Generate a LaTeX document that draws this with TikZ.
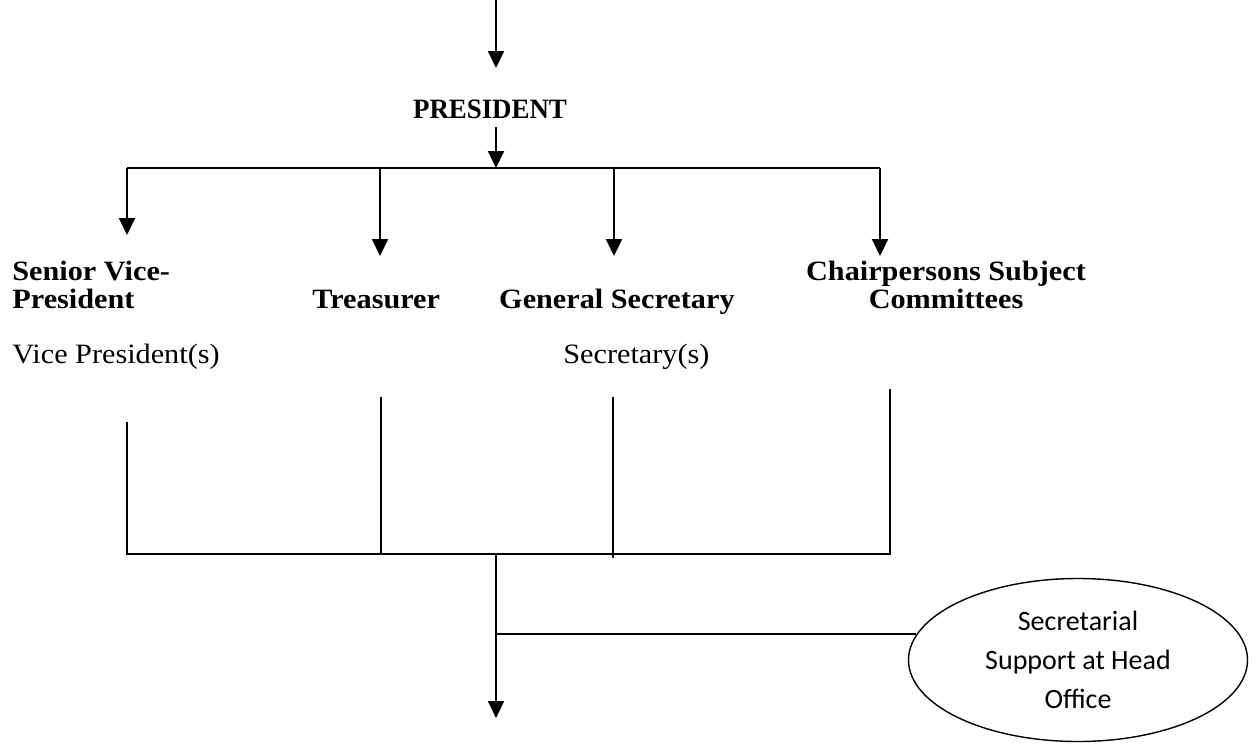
\documentclass[tikz,border=0pt]{standalone}
\usepackage{fontspec}
\setmainfont{Liberation Serif}[FakeStretch=1.08]
\newfontfamily\capsfont{Liberation Serif}[FakeStretch=0.96]
\newfontfamily\calib{Carlito}
\usetikzlibrary{arrows.meta,shapes.geometric}
\tikzset{
  lbl/.style={font=\bfseries\fontsize{14}{14}\selectfont, inner sep=0pt, align=left},
  plaintxt/.style={font=\fontsize{14}{14}\selectfont, inner sep=0pt},
  arr/.style={line width=1pt, -{Triangle[width=8pt,length=8.5pt]}},
  ln/.style={line width=1pt},
  oval/.style={ellipse, draw, line width=0.7pt, inner sep=0pt,
    minimum width=169.5pt, minimum height=81.5pt, align=center,
    font=\calib\fontsize{14}{19.5}\selectfont},
}
\begin{document}
\begin{tikzpicture}[x=0.5pt,y=-0.5pt]
\useasboundingbox (0,0) rectangle (1256,744);

% top
\coordinate (top) at (496,0);
\coordinate (topend) at (496,68);
\draw[arr] (top) -- (topend);
\node[lbl, font=\capsfont\bfseries\fontsize{14}{14}\selectfont, anchor=base] (pres) at (490,118) {PRESIDENT};
\coordinate (p1) at (496,127);
\coordinate (pbus) at (496,168);
\draw[arr] (p1) -- (pbus);

% upper bus
\coordinate (u1) at (127,168);
\coordinate (u2) at (380,168);
\coordinate (u3) at (614,168);
\coordinate (u4) at (880,168);
\draw[ln] (u1) -- (u4);

% labels
\node[lbl, anchor=north west] (svp) at (12,261) {Senior Vice-\\President};
\node[lbl, anchor=base west] (tre) at (312,308) {Treasurer};
\node[lbl, anchor=base east] (gs) at (735,308) {General Secretary};
\node[lbl, anchor=north, align=center] (cs) at (946,261) {Chairpersons Subject\\Committees};
\node[plaintxt, anchor=base west] (vp) at (12,363) {Vice President(s)};
\node[plaintxt, anchor=base west] (sec) at (563,363) {Secretary(s)};

% arrows to labels
\coordinate (a1) at (127,235);
\coordinate (a2) at (380,256);
\coordinate (a3) at (614,256);
\coordinate (a4) at (880,256);
\draw[arr] (u1) -- (a1);
\draw[arr] (u2) -- (a2);
\draw[arr] (u3) -- (a3);
\draw[arr] (u4) -- (a4);

% lower lines
\coordinate (l1t) at (127,422);
\coordinate (l2t) at (381,397);
\coordinate (l3t) at (613,397);
\coordinate (l4t) at (890,389);
\coordinate (l1b) at (127,554);
\coordinate (l2b) at (381,554);
\coordinate (l3b) at (613,558);
\coordinate (l4b) at (890,554);
\draw[ln] (l1t) -- (l1b) -- (l4b) -- (l4t);
\draw[ln] (l2t) -- (l2b);
\draw[ln] (l3t) -- (l3b);

% centre line and ellipse
\coordinate (mid) at (496,554);
\coordinate (bottom) at (496,718);
\draw[arr] (mid) -- (bottom);
\node[oval] (ell) at (1078,660) {Secretarial\\Support at Head\\Office};
\draw[ln] (ell.171) -- (ell.171 -| mid);
\end{tikzpicture}
\end{document}
